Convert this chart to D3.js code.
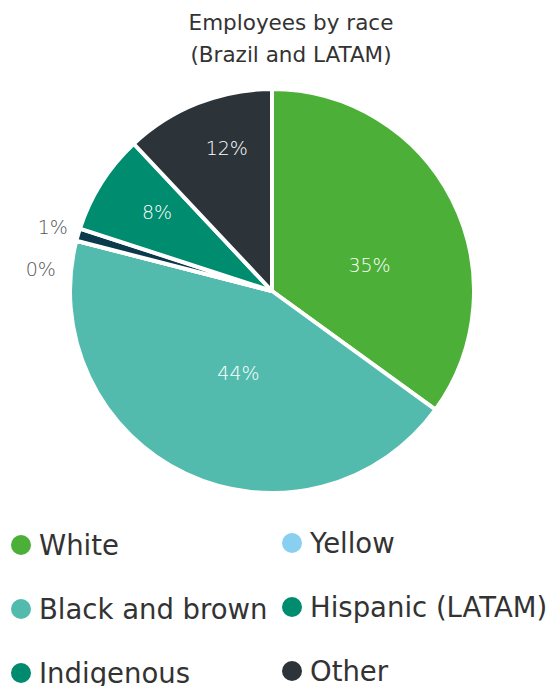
<!DOCTYPE html>
<html>
<head>
<meta charset="utf-8">
<script src="https://cdn.jsdelivr.net/npm/d3@7"></script>
<style>
  html, body { margin: 0; padding: 0; background: #fff; }
  svg { display: block; }
  text { font-family: "DejaVu Sans", "Open Sans", sans-serif; }
</style>
</head>
<body>
<svg id="chart" width="548" height="686"></svg>
<script>
// Share of employees by race, Brazil and LATAM (percent)
const categories = ["White", "Black and brown", "Yellow", "Indigenous", "Hispanic (LATAM)", "Other"];
const shares     = [35, 44, 0, 1, 8, 12];
const sliceColors  = ["#4caf37", "#52bbad", "#89cff0", "#0b3a4c", "#008c6e", "#2c343a"];
const legendColors = ["#4caf37", "#52bbad", "#89cff0", "#008a6e", "#008c6e", "#2c343a"];
const legendOrder  = ["White", "Yellow", "Black and brown", "Hispanic (LATAM)", "Indigenous", "Other"];
const titleLines   = ["Employees by race", "(Brazil and LATAM)"];

const svg = d3.select("#chart");
const cx = 272, cy = 291, R = 202;

// title
svg.append("g").selectAll("text").data(titleLines).join("text")
  .attr("x", 291).attr("y", (d, i) => 30 + i * 32)
  .attr("text-anchor", "middle")
  .attr("font-size", 21.5).attr("fill", "#333")
  .text(d => d);

const data = categories.map((c, i) => ({ name: c, value: shares[i], color: sliceColors[i] }));
const pie = d3.pie().value(d => d.value).sort(null);
const arcs = pie(data);
const arc = d3.arc().innerRadius(0).outerRadius(R);

const g = svg.append("g").attr("transform", `translate(${cx},${cy})`);
g.selectAll("path").data(arcs).join("path")
  .attr("d", arc)
  .attr("fill", d => d.data.color)
  .attr("stroke", "#fff")
  .attr("stroke-width", 4)
  .attr("stroke-linejoin", "round");

// label placement: radius factor and angle nudge (degrees) per slice
const labelRadius = [0.50, 0.44, 1.15, 1.13, 0.69, 0.74];
const labelNudge  = [12, -3, -9, 0, 2, 4];
const labelInside = [true, true, false, false, true, true];

g.selectAll("text.pct").data(arcs).join("text")
  .attr("class", "pct")
  .each(function (d, i) {
    const a = (d.startAngle + d.endAngle) / 2 + labelNudge[i] * Math.PI / 180;
    const r = R * labelRadius[i];
    d3.select(this)
      .attr("x", Math.sin(a) * r)
      .attr("y", -Math.cos(a) * r)
      .attr("dy", "0.35em");
  })
  .attr("text-anchor", "middle")
  .attr("font-size", 19)
  .attr("font-weight", 200)
  .attr("fill", (d, i) => labelInside[i] ? "#fff" : "#555")
  .text(d => d.data.value + "%");

// legend: two columns, three rows
const colX = [21, 292];
const rowY = [545, 609, 673];
const lg = svg.append("g").selectAll("g").data(legendOrder).join("g")
  .attr("transform", (d, i) => `translate(${colX[i % 2]},${rowY[Math.floor(i / 2)] - (i % 2 ? 2 : 0)})`);
lg.append("circle").attr("r", 10)
  .attr("fill", d => legendColors[categories.indexOf(d)]);
lg.append("text").attr("x", 18).attr("dy", "0.36em")
  .attr("font-size", 27.5).attr("fill", "#333")
  .text(d => d);
</script>
</body>
</html>
